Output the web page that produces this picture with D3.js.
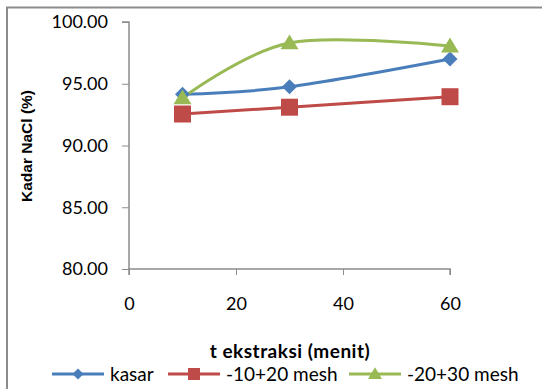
<!DOCTYPE html>
<html>
<head>
<meta charset="utf-8">
<script src="https://cdn.jsdelivr.net/npm/d3@7"></script>
<style>
  body { margin: 0; background: #fff; }
  text { fill: #000; }
</style>
</head>
<body>
<svg id="chart" width="542" height="389"></svg>
<script>
const times = [10, 30, 60];
const kasar = [94.15, 94.75, 97.0];
const mesh1020 = [92.55, 93.1, 93.95];
const mesh2030 = [93.85, 98.3, 98.05];
const xTicks = [0, 20, 40, 60];
const yTicks = [80, 85, 90, 95, 100];

const series = [
  { name: 'kasar', values: kasar, color: '#4a7ebb', marker: 'diamond' },
  { name: '-10+20 mesh', values: mesh1020, color: '#be4b48', marker: 'square' },
  { name: '-20+30 mesh', values: mesh2030, color: '#98b954', marker: 'triangle' },
];

const svg = d3.select('#chart');
const tickFont = 'Lato, "Open Sans", sans-serif';

// outer frame (only top/left visible in the crop)
svg.append('path')
  .attr('d', 'M7 400 L7 7.5 L560 7.5')
  .attr('fill', 'none')
  .attr('stroke', '#8c8c8c')
  .attr('stroke-width', 2);

const x = d3.scaleLinear().domain([0, 60]).range([129, 450]);
const y = d3.scaleLinear().domain([80, 100]).range([269, 22]);

const g = svg.append('g');

// y axis
const yAxis = g.append('g')
  .attr('transform', `translate(${x(0)},0)`)
  .call(d3.axisLeft(y).tickValues(yTicks).tickSize(7).tickPadding(14).tickFormat(d3.format('.2f')));
// x axis
const xAxis = g.append('g')
  .attr('transform', `translate(0,${y(80)})`)
  .call(d3.axisBottom(x).tickValues(xTicks).tickSize(6).tickPadding(22));

[yAxis, xAxis].forEach(a => {
  a.select('.domain').attr('stroke', '#8c8c8c').attr('stroke-width', 1.5);
  a.selectAll('.tick line').attr('stroke', '#8c8c8c');
  a.selectAll('.tick text')
    .style('font-family', tickFont)
    .style('font-size', '18px')
    .attr('fill', '#000');
});
xAxis.select('.domain').attr('d', `M${x(0)},6V0H${x(60)}V6`);
yAxis.select('.domain').attr('d', `M-7,${y(100)}H0V${y(80)}`);

// lines
const line = d3.line()
  .x((d, i) => x(times[i]))
  .y(d => y(d))
  .curve(d3.curveCardinal.tension(0));

series.forEach(s => {
  g.append('path')
    .datum(s.values)
    .attr('fill', 'none')
    .attr('stroke', s.color)
    .attr('stroke-width', 3)
    .attr('d', line);
});

function drawMarker(sel, type, color, size) {
  if (type === 'diamond') {
    sel.append('path').attr('d', `M0,${-size}L${size},0L0,${size}L${-size},0Z`).attr('fill', color);
  } else if (type === 'square') {
    sel.append('rect').attr('x', -size).attr('y', -size)
      .attr('width', size * 2).attr('height', size * 2).attr('fill', color);
  } else {
    sel.append('path').attr('d', `M0,${-size * 0.95}L${size},${size * 0.7}L${-size},${size * 0.7}Z`).attr('fill', color);
  }
}

series.forEach(s => {
  s.values.forEach((v, i) => {
    const m = g.append('g').attr('transform', `translate(${x(times[i])},${y(v)})`);
    drawMarker(m, s.marker, s.color, s.marker === 'diamond' ? 7.5 : s.marker === 'square' ? 8.5 : 9);
  });
});

// axis titles
svg.append('text')
  .attr('x', 290).attr('y', 358)
  .attr('text-anchor', 'middle')
  .style('font-family', tickFont)
  .style('font-weight', 'bold')
  .style('font-size', '19px')
  .style('letter-spacing', '0.5px')
  .text('t ekstraksi (menit)');

svg.append('text')
  .attr('transform', 'translate(31.5,146) rotate(-90)')
  .attr('text-anchor', 'middle')
  .style('font-family', '"Liberation Sans", Arial, sans-serif')
  .style('font-weight', 'bold')
  .style('font-size', '15.5px')
  .text('Kadar NaCl (%)');

// legend
const legendX = [52, 168, 349];
series.forEach((s, i) => {
  const lg = svg.append('g').attr('transform', `translate(${legendX[i]},374)`);
  lg.append('line').attr('x1', 0).attr('x2', 52).attr('stroke', s.color).attr('stroke-width', 3);
  const m = lg.append('g').attr('transform', 'translate(26,0)');
  drawMarker(m, s.marker, s.color, s.marker === 'diamond' ? 5.5 : s.marker === 'square' ? 6 : 7);
  lg.append('text')
    .attr('x', 58).attr('y', 6.5)
    .style('font-family', tickFont)
    .style('font-size', '19px')
    .text(s.name);
});
</script>
</body>
</html>
